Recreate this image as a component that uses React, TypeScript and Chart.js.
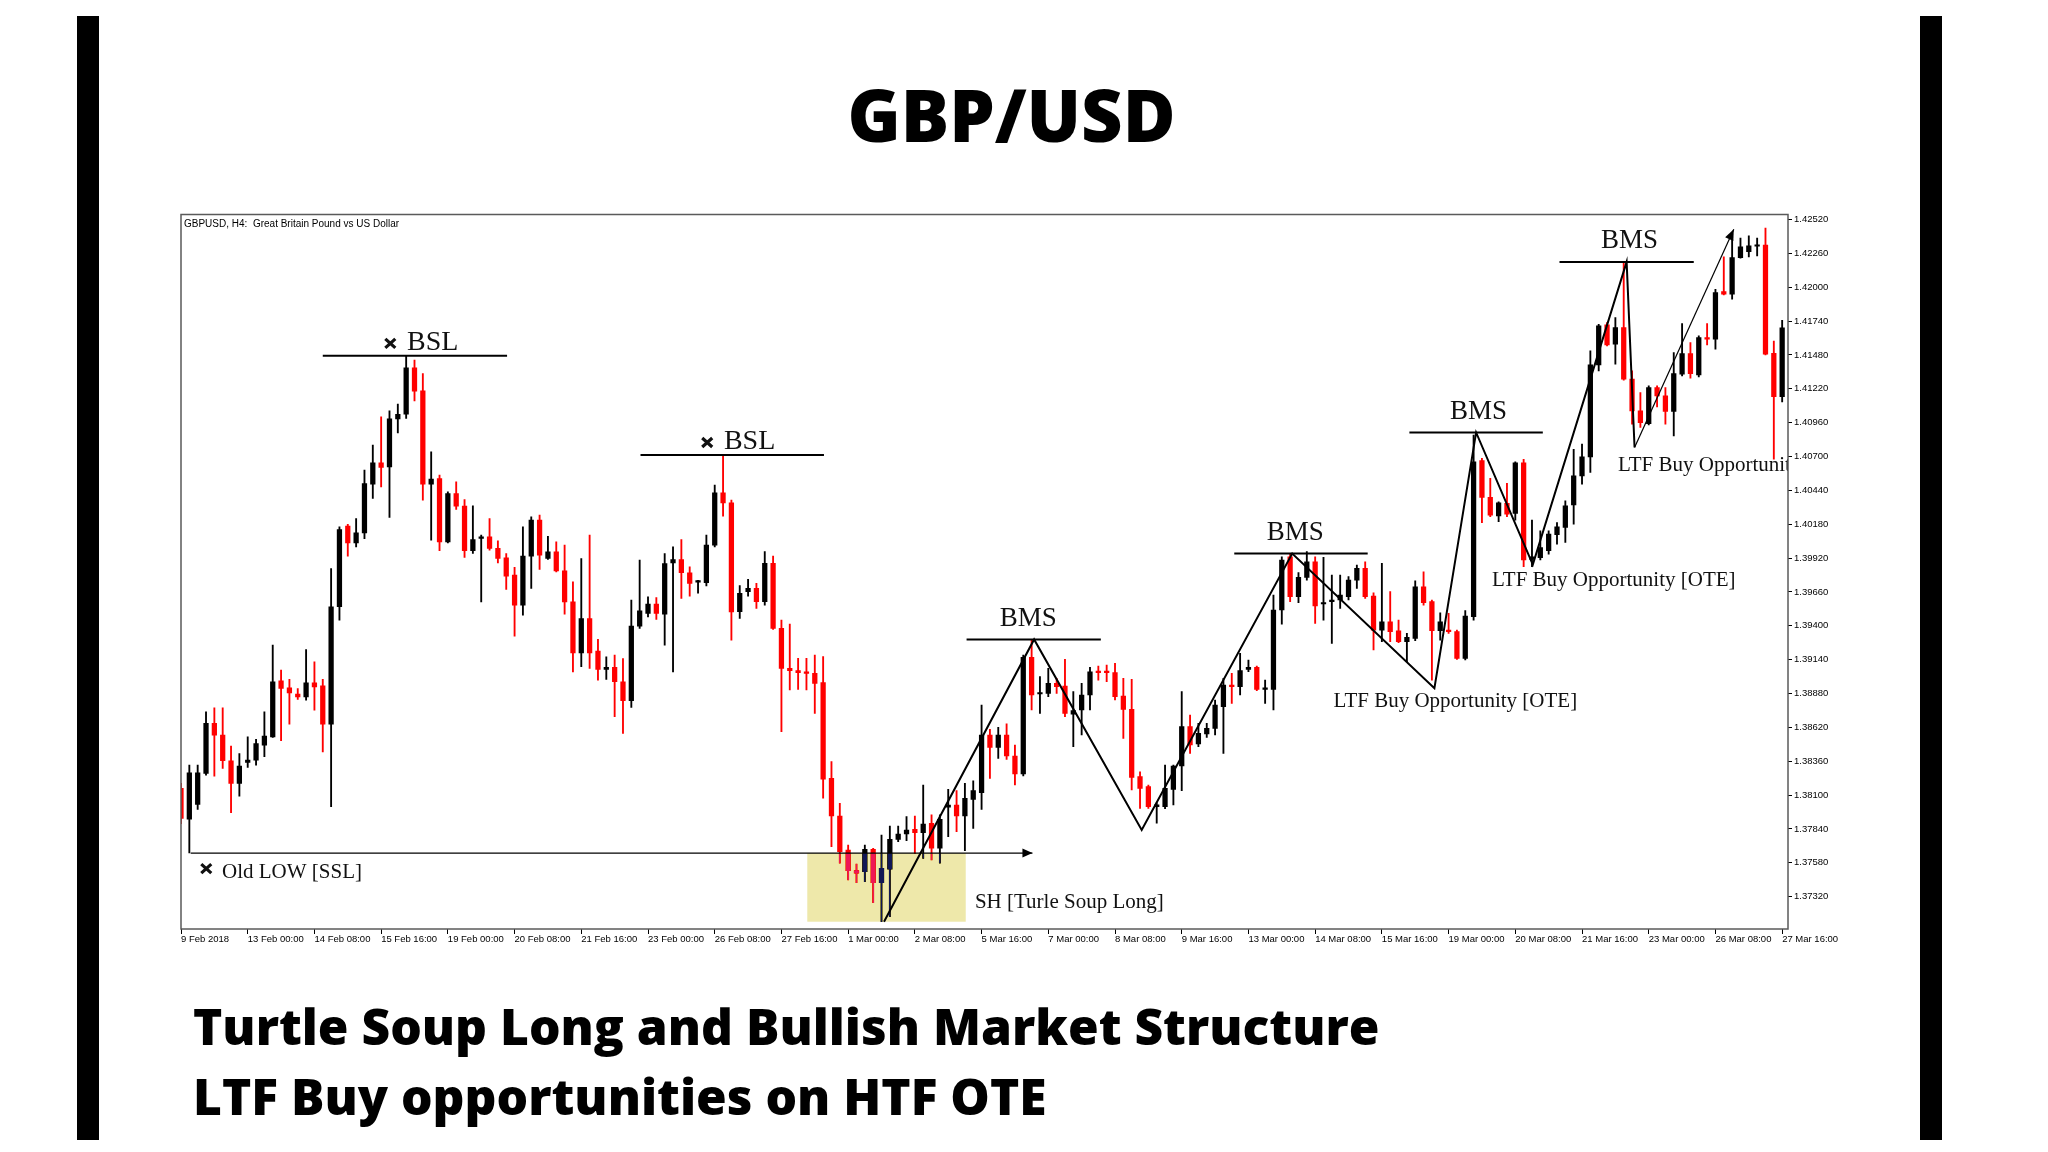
import React, { useEffect, useRef } from "react";
import { Chart, registerables } from "chart.js";

Chart.register(...registerables);

// ---------- OHLC data (GBPUSD H4, bar index 0..192) ----------
const opens = [
  1.38151, 1.37915, 1.38028, 1.38266, 1.38650, 1.38560, 1.38363, 1.38189, 1.38350, 1.38368,
  1.38483, 1.38547, 1.38977, 1.38923, 1.38875, 1.38854, 1.38962, 1.38939, 1.38645, 1.39546,
  1.40165, 1.40037, 1.40114, 1.40488, 1.40651, 1.40621, 1.40989, 1.41025, 1.41381, 1.41204,
  1.40488, 1.40531, 1.40045, 1.40416, 1.40319, 1.39976, 1.40071, 1.40083, 1.39994, 1.39922,
  1.39789, 1.39558, 1.39935, 1.40211, 1.39917, 1.39968, 1.39822, 1.39584, 1.39192, 1.39456,
  1.39205, 1.39064, 1.39080, 1.38970, 1.38824, 1.39397, 1.39494, 1.39566, 1.39489, 1.39883,
  1.39909, 1.39807, 1.39735, 1.39732, 1.40019, 1.40421, 1.40344, 1.39508, 1.39662, 1.39687,
  1.39585, 1.39879, 1.39380, 1.39073, 1.39055, 1.39042, 1.39035, 1.38963, 1.38228, 1.37939,
  1.37678, 1.37519, 1.37512, 1.37683, 1.37427, 1.37530, 1.37760, 1.37801, 1.37836, 1.37811,
  1.37882, 1.37691, 1.38006, 1.38023, 1.37939, 1.38067, 1.38118, 1.38561, 1.38466, 1.38561,
  1.38400, 1.38262, 1.39157, 1.38876, 1.38881, 1.38958, 1.38937, 1.38722, 1.38753, 1.38868,
  1.39047, 1.39047, 1.39040, 1.38860, 1.38758, 1.38241, 1.38164, 1.38011, 1.38011, 1.38144,
  1.38323, 1.38625, 1.38492, 1.38569, 1.38612, 1.38778, 1.38945, 1.38932, 1.39065, 1.39081,
  1.38912, 1.38912, 1.39521, 1.39930, 1.39623, 1.39772, 1.39892, 1.39567, 1.39585, 1.39598,
  1.39623, 1.39751, 1.39841, 1.39628, 1.39367, 1.39431, 1.39362, 1.39278, 1.39303, 1.39700,
  1.39585, 1.39362, 1.39367, 1.39355, 1.39150, 1.39470, 1.40668, 1.40386, 1.40243, 1.40340,
  1.40263, 1.40652, 1.39910, 1.39924, 1.39976, 1.40099, 1.40155, 1.40329, 1.40552, 1.40697,
  1.41404, 1.41711, 1.41563, 1.41691, 1.41294, 1.41051, 1.40953, 1.41230, 1.41166, 1.41046,
  1.41332, 1.41491, 1.41327, 1.41614, 1.41601, 1.41967, 1.41947, 1.42228, 1.42274, 1.42315,
  1.42325, 1.41492, 1.41159,
];
const highs = [
  1.38190, 1.38330, 1.38330, 1.38739, 1.38770, 1.38770, 1.38476, 1.38419, 1.38547, 1.38527,
  1.38739, 1.39251, 1.39059, 1.38988, 1.38918, 1.39218, 1.39123, 1.38988, 1.39840, 1.40160,
  1.40180, 1.40224, 1.40595, 1.40787, 1.41005, 1.41051, 1.41102, 1.41470, 1.41440, 1.41337,
  1.40736, 1.40557, 1.40429, 1.40506, 1.40370, 1.40321, 1.40096, 1.40224, 1.40053, 1.39955,
  1.39848, 1.40160, 1.40237, 1.40250, 1.40088, 1.40045, 1.40019, 1.39738, 1.39917, 1.40096,
  1.39295, 1.39162, 1.39174, 1.39149, 1.39597, 1.39904, 1.39622, 1.39617, 1.39955, 1.40006,
  1.40063, 1.39853, 1.39750, 1.40096, 1.40480, 1.40705, 1.40365, 1.39708, 1.39756, 1.39726,
  1.39969, 1.39936, 1.39444, 1.39413, 1.39150, 1.39150, 1.39175, 1.39163, 1.38356, 1.38036,
  1.37716, 1.37570, 1.37716, 1.37691, 1.37793, 1.37862, 1.37862, 1.37934, 1.37939, 1.38177,
  1.37947, 1.37947, 1.38144, 1.38134, 1.38190, 1.38210, 1.38791, 1.38605, 1.38620, 1.38646,
  1.38484, 1.39175, 1.39290, 1.39009, 1.39073, 1.38996, 1.39142, 1.38894, 1.38958, 1.39081,
  1.39091, 1.39099, 1.39111, 1.38996, 1.38989, 1.38279, 1.38177, 1.38041, 1.38331, 1.38330,
  1.38894, 1.38715, 1.38651, 1.38651, 1.38830, 1.38996, 1.39035, 1.39188, 1.39137, 1.39091,
  1.38983, 1.39636, 1.39930, 1.39956, 1.39808, 1.39969, 1.39930, 1.39925, 1.39790, 1.39790,
  1.39777, 1.39867, 1.39892, 1.39654, 1.39879, 1.39662, 1.39444, 1.39342, 1.39746, 1.39815,
  1.39598, 1.39500, 1.39495, 1.39367, 1.39516, 1.40865, 1.40686, 1.40532, 1.40353, 1.40494,
  1.40660, 1.40678, 1.40212, 1.40129, 1.40129, 1.40193, 1.40360, 1.40756, 1.40795, 1.41511,
  1.41716, 1.41729, 1.41767, 1.42195, 1.41358, 1.41192, 1.41243, 1.41243, 1.41230, 1.41499,
  1.41721, 1.41576, 1.41627, 1.41721, 1.41985, 1.42233, 1.42369, 1.42377, 1.42395, 1.42377,
  1.42454, 1.41586, 1.41747,
];
const lows = [
  1.37880, 1.37655, 1.37989, 1.38253, 1.38245, 1.38304, 1.37964, 1.38092, 1.38312, 1.38330,
  1.38394, 1.38542, 1.38517, 1.38645, 1.38834, 1.38829, 1.38752, 1.38432, 1.38010, 1.39443,
  1.39935, 1.40006, 1.40070, 1.40378, 1.40467, 1.40232, 1.40882, 1.40992, 1.41128, 1.40365,
  1.40058, 1.39976, 1.40037, 1.40293, 1.39925, 1.39955, 1.39584, 1.39981, 1.39883, 1.39679,
  1.39320, 1.39482, 1.39686, 1.39832, 1.39909, 1.39814, 1.39489, 1.39046, 1.39085, 1.39072,
  1.38982, 1.38988, 1.38701, 1.38573, 1.38773, 1.39379, 1.39469, 1.39448, 1.39251, 1.39046,
  1.39610, 1.39628, 1.39650, 1.39707, 1.40006, 1.40242, 1.39290, 1.39457, 1.39628, 1.39534,
  1.39559, 1.39372, 1.38587, 1.38907, 1.38912, 1.38907, 1.38727, 1.38075, 1.37704, 1.37576,
  1.37448, 1.37427, 1.37435, 1.37273, 1.37128, 1.37166, 1.37742, 1.37749, 1.37652, 1.37614,
  1.37601, 1.37576, 1.37780, 1.37819, 1.37673, 1.37844, 1.37990, 1.38228, 1.38382, 1.38374,
  1.38177, 1.38246, 1.38753, 1.38727, 1.38855, 1.38881, 1.38702, 1.38471, 1.38561, 1.38753,
  1.38983, 1.38971, 1.38830, 1.38535, 1.38139, 1.37998, 1.37998, 1.37883, 1.37995, 1.38024,
  1.38134, 1.38420, 1.38471, 1.38543, 1.38561, 1.38420, 1.38804, 1.38868, 1.39047, 1.38901,
  1.38804, 1.38753, 1.39413, 1.39585, 1.39577, 1.39751, 1.39419, 1.39444, 1.39265, 1.39534,
  1.39598, 1.39687, 1.39611, 1.39214, 1.39278, 1.39278, 1.39270, 1.39124, 1.39285, 1.39559,
  1.38983, 1.39290, 1.39342, 1.39142, 1.39137, 1.39444, 1.40192, 1.40238, 1.40199, 1.40238,
  1.40212, 1.39854, 1.39854, 1.39905, 1.39950, 1.40027, 1.40040, 1.40180, 1.40488, 1.40577,
  1.41358, 1.41550, 1.41409, 1.41286, 1.40948, 1.40923, 1.40943, 1.41082, 1.40948, 1.40859,
  1.41320, 1.41302, 1.41312, 1.41558, 1.41524, 1.41941, 1.41908, 1.42223, 1.42233, 1.42241,
  1.41480, 1.40680, 1.41120,
];
const closes = [
  1.37920, 1.38271, 1.38271, 1.38650, 1.38560, 1.38363, 1.38189, 1.38322, 1.38368, 1.38496,
  1.38552, 1.38970, 1.38918, 1.38885, 1.38854, 1.38962, 1.38931, 1.38645, 1.39546, 1.40139,
  1.40037, 1.40114, 1.40493, 1.40651, 1.40616, 1.40989, 1.41025, 1.41381, 1.41202, 1.40488,
  1.40526, 1.40045, 1.40416, 1.40319, 1.39976, 1.40063, 1.40083, 1.39994, 1.39917, 1.39781,
  1.39558, 1.39935, 1.40211, 1.39942, 1.39968, 1.39822, 1.39584, 1.39192, 1.39456, 1.39192,
  1.39064, 1.39080, 1.38970, 1.38824, 1.39397, 1.39515, 1.39566, 1.39494, 1.39878, 1.39909,
  1.39807, 1.39725, 1.39740, 1.40019, 1.40421, 1.40344, 1.39507, 1.39649, 1.39687, 1.39585,
  1.39879, 1.39380, 1.39073, 1.39055, 1.39040, 1.39035, 1.38958, 1.38221, 1.37939, 1.37665,
  1.37519, 1.37499, 1.37683, 1.37427, 1.37537, 1.37760, 1.37801, 1.37831, 1.37811, 1.37877,
  1.37691, 1.37913, 1.38023, 1.37939, 1.38075, 1.38134, 1.38561, 1.38466, 1.38561, 1.38400,
  1.38262, 1.39157, 1.38868, 1.38886, 1.38958, 1.38932, 1.38727, 1.38748, 1.38868, 1.39047,
  1.39040, 1.39040, 1.38855, 1.38758, 1.38236, 1.38151, 1.38011, 1.38024, 1.38151, 1.38323,
  1.38625, 1.38484, 1.38574, 1.38612, 1.38791, 1.38945, 1.38932, 1.39055, 1.39081, 1.38912,
  1.38919, 1.39521, 1.39905, 1.39623, 1.39772, 1.39892, 1.39552, 1.39577, 1.39598, 1.39636,
  1.39751, 1.39841, 1.39623, 1.39367, 1.39431, 1.39355, 1.39278, 1.39311, 1.39700, 1.39577,
  1.39362, 1.39431, 1.39355, 1.39150, 1.39475, 1.40660, 1.40386, 1.40250, 1.40345, 1.40258,
  1.40652, 1.39905, 1.39930, 1.40001, 1.40104, 1.40160, 1.40321, 1.40552, 1.40697, 1.41404,
  1.41703, 1.41558, 1.41691, 1.41294, 1.41051, 1.40961, 1.41230, 1.41166, 1.41046, 1.41337,
  1.41491, 1.41337, 1.41614, 1.41601, 1.41959, 1.41947, 1.42228, 1.42310, 1.42318, 1.42325,
  1.41486, 1.41159, 1.41688,
];

// ---------- axis labels ----------
const xTickLabels = [
  "9 Feb 2018", "13 Feb 00:00", "14 Feb 08:00", "15 Feb 16:00", "19 Feb 00:00",
  "20 Feb 08:00", "21 Feb 16:00", "23 Feb 00:00", "26 Feb 08:00", "27 Feb 16:00",
  "1 Mar 00:00", "2 Mar 08:00", "5 Mar 16:00", "7 Mar 00:00", "8 Mar 08:00",
  "9 Mar 16:00", "13 Mar 00:00", "14 Mar 08:00", "15 Mar 16:00", "19 Mar 00:00",
  "20 Mar 08:00", "21 Mar 16:00", "23 Mar 00:00", "26 Mar 08:00", "27 Mar 16:00",
];
const xTickStep = 8;
const yTickLabels = [
  "1.37320", "1.37580", "1.37840", "1.38100", "1.38360", "1.38620", "1.38880",
  "1.39140", "1.39400", "1.39660", "1.39920", "1.40180", "1.40440", "1.40700",
  "1.40960", "1.41220", "1.41480", "1.41740", "1.42000", "1.42260", "1.42520",
];
const xMin = 0;
const xMax = 192.7;
const yMin = 1.37071;
const yMax = 1.42559;

// ---------- annotations (bar index / price) ----------
const zigzagPoints = [
  [84.3, 1.37127], [102.3, 1.39295], [115.2, 1.37831], [133.25, 1.39955],
  [150.3, 1.38921], [155.3, 1.40885], [162.1, 1.39870], [173.35, 1.42195], [174.3, 1.40770],
];
const arrowLegPoints = [[174.3, 1.40770], [186.2, 1.42446]];
const bslLevels = [
  { from: 17.0, to: 39.1, price: 1.41475 },
  { from: 55.1, to: 77.1, price: 1.40712 },
];
const bmsLevels = [
  { from: 94.2, to: 110.3, price: 1.39295 },
  { from: 126.3, to: 142.3, price: 1.39955 },
  { from: 147.3, to: 163.3, price: 1.40885 },
  { from: 165.3, to: 181.4, price: 1.42195 },
];
const oldLowLine = { from: 1.16, to: 102.1, price: 1.37654 };
const turtleBox = { from: 75.1, to: 94.1, top: 1.37654, bottom: 1.37127 };

const bslTexts = [
  { x: 27.1, y: 1.41517, markX: 25.1, markY: 1.41569 },
  { x: 65.1, y: 1.40757, markX: 63.1, markY: 1.40808 },
];
const bmsTexts = [
  { x: 101.6, y: 1.39399 },
  { x: 133.6, y: 1.40059 },
  { x: 155.6, y: 1.40989 },
  { x: 173.7, y: 1.42299 },
];
const ltfTexts = [
  { x: 138.2, y: 1.38776 },
  { x: 157.2, y: 1.39705 },
  { x: 172.3, y: 1.40590 },
];
const ltfLabel = "LTF Buy Opportunity [OTE]";
const soupText = { x: 95.2, y: 1.37230, text: "SH [Turle Soup Long]" };
const oldLowText = { x: 4.92, y: 1.37466, markX: 3.03, markY: 1.37535, text: "Old LOW [SSL]" };
const headerLabel = "GBPUSD, H4:  Great Britain Pound vs US Dollar";

const BULL = "#000000";
const BEAR = "#ff0000";

function drawCross(ctx: CanvasRenderingContext2D, cx: number, cy: number) {
  ctx.save();
  ctx.strokeStyle = "#111";
  ctx.lineWidth = 3.2;
  ctx.lineCap = "butt";
  ctx.beginPath();
  ctx.moveTo(cx - 5, cy - 4.5);
  ctx.lineTo(cx + 5, cy + 4.5);
  ctx.moveTo(cx + 5, cy - 4.5);
  ctx.lineTo(cx - 5, cy + 4.5);
  ctx.stroke();
  ctx.restore();
}

function drawArrowHead(ctx: CanvasRenderingContext2D, x0: number, y0: number, x1: number, y1: number, len: number, half: number) {
  const a = Math.atan2(y1 - y0, x1 - x0);
  const bx = x1 - len * Math.cos(a);
  const by = y1 - len * Math.sin(a);
  const nx = -Math.sin(a);
  const ny = Math.cos(a);
  ctx.save();
  ctx.fillStyle = "#000";
  ctx.beginPath();
  ctx.moveTo(x1, y1);
  ctx.lineTo(bx + nx * half, by + ny * half);
  ctx.lineTo(bx - nx * half, by - ny * half);
  ctx.closePath();
  ctx.fill();
  ctx.restore();
}

const chartPlugin = {
  id: "mt4Annotations",
  beforeDraw(chart: any) {
    const { ctx, width, height } = chart;
    ctx.save();
    ctx.fillStyle = "#ffffff";
    ctx.fillRect(0, 0, width, height);
    ctx.restore();
  },
  afterDatasetDraw(chart: any, args: any) {
    const ds = chart.data.datasets[args.index];
    if (ds.label !== "bodies") return;
    const { ctx, chartArea } = chart;
    const xs = chart.scales.x;
    const ys = chart.scales.y;
    ctx.save();
    ctx.beginPath();
    ctx.rect(chartArea.left, chartArea.top, chartArea.right - chartArea.left, chartArea.bottom - chartArea.top);
    ctx.clip();
    ctx.globalCompositeOperation = "difference";
    ctx.fillStyle = "rgb(17,23,85)";
    const x1 = xs.getPixelForValue(turtleBox.from);
    const x2 = xs.getPixelForValue(turtleBox.to);
    const y1 = ys.getPixelForValue(turtleBox.top);
    const y2 = ys.getPixelForValue(turtleBox.bottom);
    ctx.fillRect(x1, y1, x2 - x1, y2 - y1);
    ctx.restore();
  },
  afterDraw(chart: any) {
    const { ctx, chartArea } = chart;
    const xs = chart.scales.x;
    const ys = chart.scales.y;
    const px = (v: number) => xs.getPixelForValue(v);
    const py = (v: number) => ys.getPixelForValue(v);

    ctx.save();
    ctx.beginPath();
    ctx.rect(chartArea.left, chartArea.top, chartArea.right - chartArea.left, chartArea.bottom - chartArea.top);
    ctx.clip();

    // arrow heads
    drawArrowHead(ctx, px(oldLowLine.from), py(oldLowLine.price), px(oldLowLine.to), py(oldLowLine.price), 10, 4.5);
    drawArrowHead(ctx, px(arrowLegPoints[0][0]), py(arrowLegPoints[0][1]), px(arrowLegPoints[1][0]), py(arrowLegPoints[1][1]), 11, 4.5);

    ctx.fillStyle = "#111";
    ctx.textBaseline = "alphabetic";

    ctx.font = "28px 'Liberation Serif', 'Times New Roman', serif";
    ctx.textAlign = "left";
    bslTexts.forEach((t) => {
      ctx.fillText("BSL", px(t.x), py(t.y));
      drawCross(ctx, px(t.markX), py(t.markY));
    });

    ctx.font = "27px 'Liberation Serif', 'Times New Roman', serif";
    ctx.textAlign = "center";
    bmsTexts.forEach((t) => ctx.fillText("BMS", px(t.x), py(t.y)));

    ctx.font = "21px 'Liberation Serif', 'Times New Roman', serif";
    ctx.textAlign = "left";
    ltfTexts.forEach((t) => ctx.fillText(ltfLabel, px(t.x), py(t.y)));
    ctx.fillText(soupText.text, px(soupText.x), py(soupText.y));
    ctx.fillText(oldLowText.text, px(oldLowText.x), py(oldLowText.y));
    drawCross(ctx, px(oldLowText.markX), py(oldLowText.markY));

    ctx.font = "10px 'Liberation Sans', Arial, sans-serif";
    ctx.fillStyle = "#000";
    ctx.fillText(headerLabel, chartArea.left + 3, chartArea.top + 12);
    ctx.restore();

    // frame
    ctx.save();
    ctx.strokeStyle = "#5a5a5a";
    ctx.lineWidth = 1.5;
    ctx.strokeRect(chartArea.left, chartArea.top, chartArea.right - chartArea.left, chartArea.bottom - chartArea.top);
    ctx.restore();
  },
};

function lineDataset(points: number[][], width: number, label: string) {
  return {
    type: "line" as const,
    label,
    data: points.map((p) => ({ x: p[0], y: p[1] })),
    borderColor: "#000",
    backgroundColor: "#000",
    borderWidth: width,
    pointRadius: 0,
    fill: false,
    tension: 0,
    order: 0,
  };
}

export default function App() {
  const canvasRef = useRef<HTMLCanvasElement | null>(null);

  useEffect(() => {
    if (!canvasRef.current) return;
    const idx = opens.map((_, i) => i);
    const colors = idx.map((i) => (closes[i] >= opens[i] ? BULL : BEAR));

    const datasets: any[] = [
      {
        type: "bar",
        label: "wicks",
        data: idx.map((i) => ({ x: i, y: [lows[i], highs[i]] })),
        backgroundColor: colors,
        borderWidth: 0,
        barThickness: 1.2,
        minBarLength: 1,
        grouped: false,
        order: 2,
      },
      {
        type: "bar",
        label: "bodies",
        data: idx.map((i) => ({ x: i, y: [opens[i], closes[i]] })),
        backgroundColor: colors,
        borderWidth: 0,
        barThickness: 4.6,
        minBarLength: 1.5,
        grouped: false,
        order: 1,
      },
      lineDataset(zigzagPoints, 2, "zigzag"),
      lineDataset(arrowLegPoints, 1.2, "arrowLeg"),
      lineDataset([[oldLowLine.from, oldLowLine.price], [oldLowLine.to, oldLowLine.price]], 1.4, "oldLow"),
      ...bslLevels.map((l, k) => lineDataset([[l.from, l.price], [l.to, l.price]], 2, "bsl" + k)),
      ...bmsLevels.map((l, k) => lineDataset([[l.from, l.price], [l.to, l.price]], 2, "bms" + k)),
    ];

    const tickFont = { family: "'Liberation Sans', Arial, sans-serif", size: 9.5 };

    const chart = new Chart(canvasRef.current, {
      type: "bar",
      data: { datasets },
      options: {
        animation: false,
        responsive: false,
        devicePixelRatio: 1,
        events: [],
        layout: { padding: { left: 21, top: 19.5, right: 32, bottom: 16 } },
        plugins: { legend: { display: false }, tooltip: { enabled: false } },
        scales: {
          x: {
            type: "linear",
            min: xMin,
            max: xMax,
            offset: false,
            border: { display: false },
            grid: { drawOnChartArea: false, drawTicks: true, tickLength: 5, color: "#000", offset: false },
            ticks: {
              align: "start",
              autoSkip: false,
              maxRotation: 0,
              minRotation: 0,
              padding: 0,
              color: "#000",
              font: tickFont,
              callback: (v: any) => {
                const k = Math.round(Number(v) / xTickStep);
                return xTickLabels[k] ?? "";
              },
            },
            afterBuildTicks: (s: any) => {
              s.ticks = xTickLabels.map((_, k) => ({ value: k * xTickStep }));
            },
            afterFit: (s: any) => {
              s.height = 30;
            },
          },
          y: {
            type: "linear",
            position: "right",
            min: yMin,
            max: yMax,
            border: { display: false },
            grid: { drawOnChartArea: false, drawTicks: true, tickLength: 4, color: "#000" },
            ticks: {
              padding: 2,
              color: "#000",
              font: tickFont,
              callback: (v: any) => Number(v).toFixed(5),
            },
            afterBuildTicks: (s: any) => {
              s.ticks = yTickLabels.map((t) => ({ value: parseFloat(t) }));
            },
            afterFit: (s: any) => {
              s.width = 60;
            },
          },
        },
      } as any,
      plugins: [chartPlugin as any],
    });
    return () => chart.destroy();
  }, []);

  return (
    <div style={{ position: "absolute", left: 0, top: 0, width: 2048, height: 1152, background: "#fff", overflow: "hidden" }}>
      <svg width={2048} height={1152} style={{ position: "absolute", left: 0, top: 0 }}>
        <rect x={77} y={16} width={22} height={1124} fill="#000" />
        <rect x={1920} y={16} width={22} height={1124} fill="#000" />
        <text x={1011.5} y={141.7} textAnchor="middle" fontFamily="'Open Sans', sans-serif" fontWeight={800} fontSize={72} fill="#000">
          GBP/USD
        </text>
        <text x={193} y={1045} fontFamily="'Open Sans', sans-serif" fontWeight={800} fontSize={49.7} fill="#000">
          Turtle Soup Long and Bullish Market Structure
        </text>
        <text x={193} y={1115} fontFamily="'Open Sans', sans-serif" fontWeight={800} fontSize={49.7} fill="#000">
          LTF Buy opportunities on HTF OTE
        </text>
      </svg>
      <div style={{ position: "absolute", left: 160, top: 195, width: 1720, height: 780 }}>
        <canvas ref={canvasRef} width={1720} height={780} style={{ width: 1720, height: 780, display: "block" }} />
      </div>
    </div>
  );
}
